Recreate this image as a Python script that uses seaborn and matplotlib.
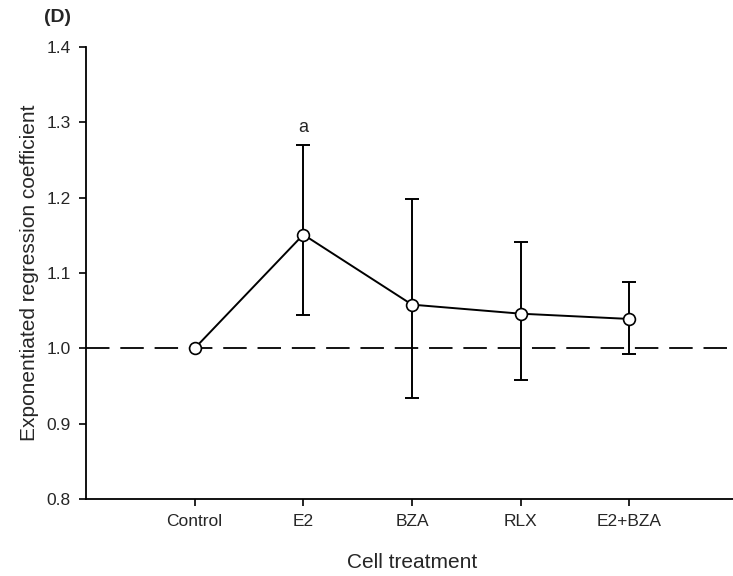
import matplotlib
matplotlib.use("Agg")
import matplotlib.pyplot as plt
import seaborn as sns
import pandas as pd
import numpy as np

categories = ["Control", "E2", "BZA", "RLX", "E2+BZA"]
values = [1.000, 1.151, 1.058, 1.046, 1.039]
upper = [np.nan, 1.270, 1.198, 1.141, 1.088]
lower = [np.nan, 1.044, 0.934, 0.958, 0.993]
y_ticks = [0.8, 0.9, 1.0, 1.1, 1.2, 1.3, 1.4]

sns.set_theme(style="ticks")
plt.rcParams['font.family'] = ['Liberation Sans', 'DejaVu Sans']

df = pd.DataFrame({"pos": np.arange(len(categories)), "value": values})

fig = plt.figure(figsize=(7.33, 5.76), dpi=100)
ax = fig.add_axes([86/733, 1-499/576, (738-86)/733, (499-47)/576])

ax.axhline(1.0, color="black", lw=1.3, ls=(0, (13, 6)), zorder=1)

vals = np.array(values); up = np.array(upper); lo = np.array(lower)
ax.errorbar(df["pos"], vals, yerr=[vals - lo, up - vals], fmt="none",
            ecolor="black", elinewidth=1.4, capsize=5, capthick=1.4, zorder=2)

sns.lineplot(data=df, x="pos", y="value", ax=ax, color="black", lw=1.4,
             marker="o", markersize=8.5, markerfacecolor="white",
             markeredgecolor="black", markeredgewidth=1.2, zorder=3)

ax.text(1, upper[1] + 0.012, "a", ha="center", va="bottom", fontsize=13)

ax.set_xlim(-1.0, 5.0)
ax.set_ylim(0.8, 1.4)
ax.set_xticks(df["pos"])
ax.set_xticklabels(categories)
ax.set_yticks(y_ticks)
ax.set_yticklabels([f"{t:.1f}" for t in y_ticks])
ax.tick_params(axis="both", labelsize=12.5, direction="out", length=5, width=1.2, color="black")
ax.tick_params(axis="x", pad=6)
ax.tick_params(axis="y", pad=6)
ax.set_xlabel("Cell treatment", fontsize=15, labelpad=17)
ax.set_ylabel("Exponentiated regression coefficient", fontsize=15, labelpad=5)
for s in ["top", "right"]:
    ax.spines[s].set_visible(False)
for s in ["left", "bottom"]:
    ax.spines[s].set_linewidth(1.3)
    ax.spines[s].set_color("black")

fig.text(44/733, 1-18/576, "(D)", fontsize=14, fontweight="bold", ha="left", va="center")

fig.savefig("out.png", dpi=100)
